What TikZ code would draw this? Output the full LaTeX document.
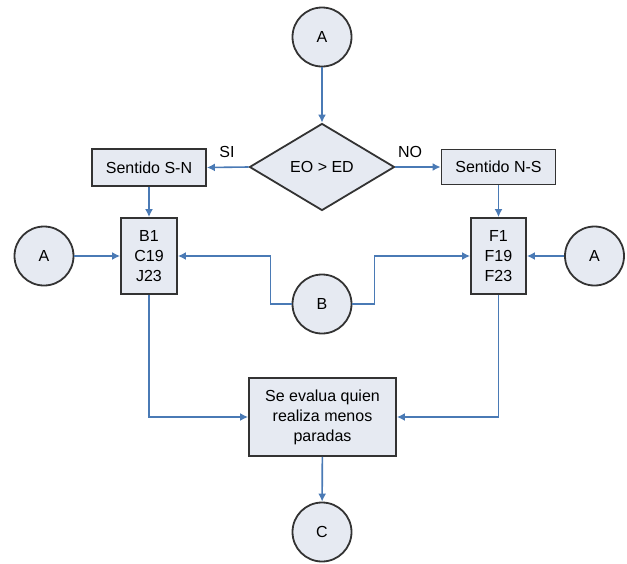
\documentclass[tikz,border=0pt]{standalone}
\usepackage{fontspec}
\setmainfont{Liberation Sans}
\usetikzlibrary{shapes.geometric,arrows.meta}
\definecolor{boxfill}{HTML}{E6EAF2}
\definecolor{lineblue}{HTML}{4A7AB5}
\definecolor{border}{HTML}{333333}
\begin{document}
\begin{tikzpicture}[x=1pt,y=-1pt,
  font=\fontsize{16}{20}\selectfont,
  base/.style={draw=border,fill=boxfill,line width=1.8pt,inner sep=0pt,align=center},
  procbox/.style={base,rectangle},
  conn/.style={base,circle,minimum size=59pt},
  decision/.style={base,diamond,minimum width=145pt,minimum height=87pt},
  flow/.style={draw=lineblue,line width=1.6pt,-{Latex[length=8pt,width=8pt]}},
  lbl/.style={inner sep=0pt,font=\fontsize{16}{18}\selectfont}]
\useasboundingbox (0,0) rectangle (627,563);
\node[conn] (A1) at (322,37) {A};
\node[decision] (D) at (322,167) {EO > ED};
\node[procbox,minimum width=114pt,minimum height=37pt] (SN) at (149,167.5) {Sentido S-N};
\node[procbox,minimum width=114pt,minimum height=35pt] (NS) at (498.5,167) {Sentido N-S};
\node[procbox,minimum width=56pt,minimum height=76pt] (L) at (149,256) {B1\\C19\\J23};
\node[procbox,minimum width=55pt,minimum height=76pt] (R) at (498.5,256) {F1\\F19\\F23};
\node[conn] (A2) at (44,256) {A};
\node[conn] (A3) at (594.5,256) {A};
\node[conn] (B) at (322,304) {B};
\node[procbox,minimum width=147pt,minimum height=78pt] (E) at (322.5,417) {Se evalua quien\\realiza menos\\paradas};
\node[conn] (C) at (322,532) {C};
\node[lbl] (si) at (227,152) {SI};
\node[lbl] (no) at (410,152) {NO};
\draw[flow] (A1) -- (D);
\draw[flow] (D.west) -- (SN.east);
\draw[flow] (D.east) -- (NS.west);
\draw[flow] (SN) -- (L);
\draw[flow] (NS) -- (R);
\draw[flow] (A2) -- (L);
\draw[flow] (A3) -- (R);
\draw[flow] (B.west) -- ++(-21,0) |- (L.east);
\draw[flow] (B.east) -- ++(22,0) |- (R.west);
\draw[flow] (L.south) |- (E.west);
\draw[flow] (R.south) |- (E.east);
\draw[flow] (E) -- (C);
\end{tikzpicture}
\end{document}
